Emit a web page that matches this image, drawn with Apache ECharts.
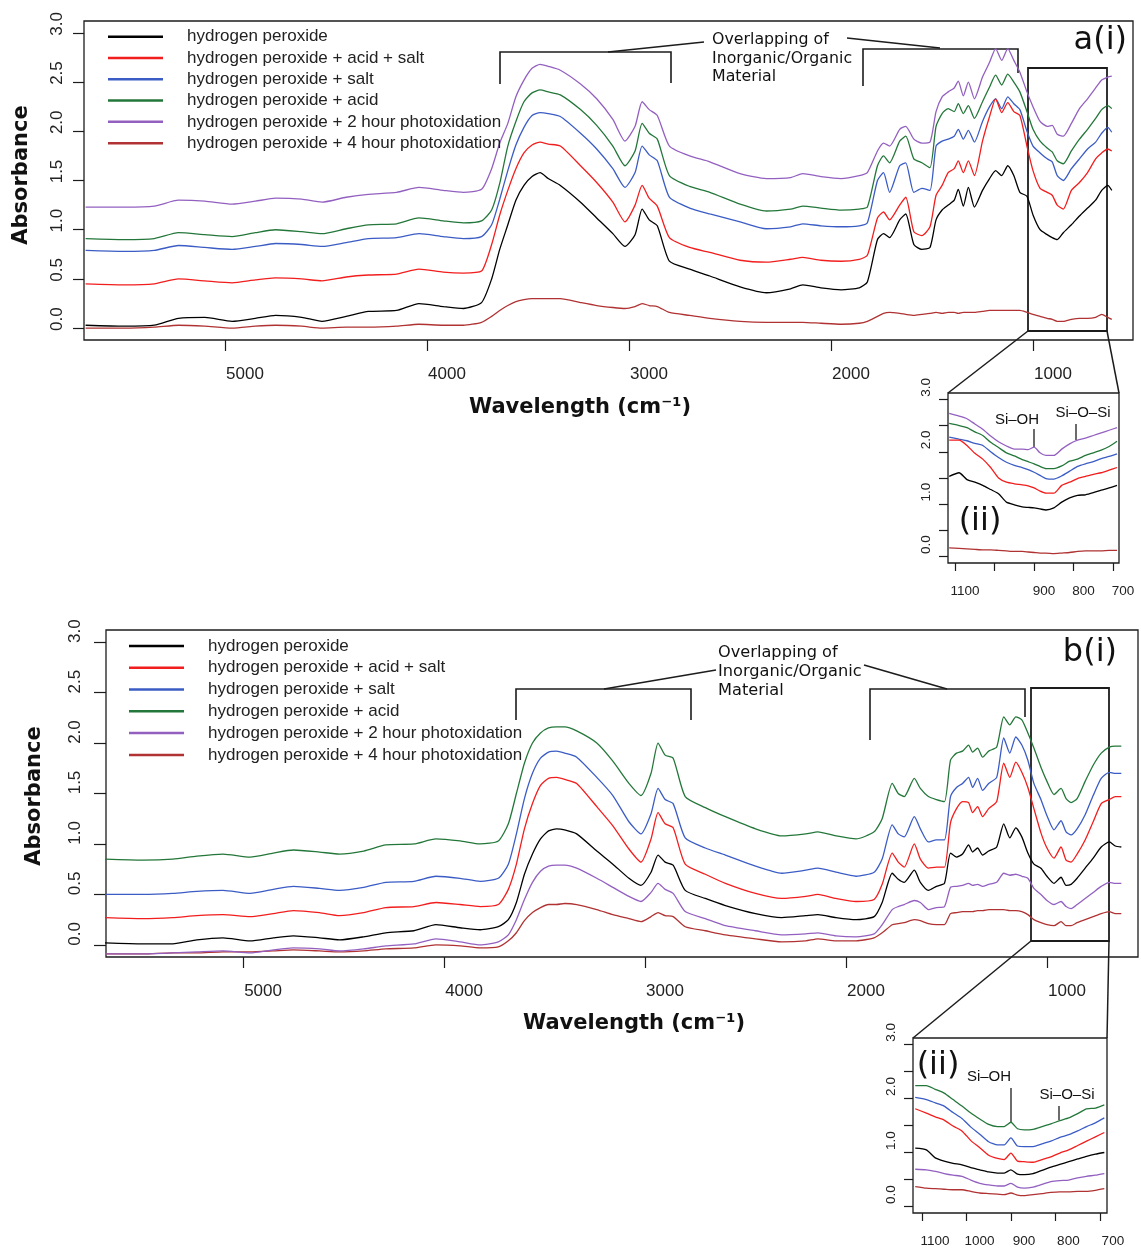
<!DOCTYPE html>
<html>
<head>
<meta charset="utf-8">
<script src="https://cdn.jsdelivr.net/npm/echarts@6/dist/echarts.min.js"></script>
<style>
  html, body { margin: 0; padding: 0; background: #fff; }
  #chart { width: 1141px; height: 1250px; }
</style>
</head>
<body>
<div id="chart"></div>
<script>
/* spectra (absorbance vs wavenumber, cm-1) */

var seriesNames = [
    'hydrogen peroxide',
    'hydrogen peroxide + acid + salt',
    'hydrogen peroxide + salt',
    'hydrogen peroxide + acid',
    'hydrogen peroxide + 2 hour photoxidation',
    'hydrogen peroxide + 4 hour photoxidation'
];
var seriesColors = ['#000000', '#f21d1d', '#3b5cc4', '#24773a', '#9360c0', '#b03232'];

var wavenumber = [5690, 5500, 5350, 5230, 5100, 4965, 4850, 4750, 4620, 4520,
    4400, 4290, 4150, 4040, 3920, 3820, 3730, 3680, 3640, 3600,
    3560, 3520, 3480, 3440, 3400, 3340, 3240, 3160, 3080, 3020,
    2970, 2935, 2900, 2860, 2800, 2700, 2600, 2450, 2320, 2200,
    2140, 2050, 1950, 1860, 1820, 1770, 1740, 1710, 1660, 1630,
    1590, 1550, 1510, 1480, 1450, 1420, 1390, 1370, 1345, 1320,
    1290, 1250, 1215, 1185, 1155, 1125, 1095, 1065, 1030, 1000,
    965, 930, 905, 880, 850, 810, 770, 730, 690, 660,
    630, 610];

// panel a(i)
var aBlack = [0.03, 0.02, 0.03, 0.10, 0.11, 0.07, 0.10, 0.13, 0.11, 0.07,
    0.12, 0.17, 0.18, 0.25, 0.22, 0.20, 0.26, 0.50, 0.80, 1.05,
    1.30, 1.45, 1.54, 1.58, 1.52, 1.45, 1.28, 1.12, 0.96, 0.83,
    0.95, 1.21, 1.10, 1.04, 0.68, 0.60, 0.53, 0.42, 0.36, 0.40,
    0.44, 0.41, 0.39, 0.41, 0.47, 0.90, 0.96, 0.92, 1.10, 1.16,
    0.85, 0.80, 0.82, 1.10, 1.20, 1.25, 1.30, 1.41, 1.24, 1.43,
    1.23, 1.40, 1.52, 1.60, 1.55, 1.65, 1.55, 1.38, 1.34, 1.15,
    1.00, 0.95, 0.92, 0.90, 0.97, 1.05, 1.14, 1.22, 1.30, 1.40,
    1.45, 1.40];
var aAcidSalt = [0.45, 0.44, 0.45, 0.50, 0.48, 0.46, 0.49, 0.51, 0.50, 0.48,
    0.52, 0.54, 0.55, 0.60, 0.57, 0.56, 0.58, 0.85, 1.15, 1.40,
    1.62, 1.78, 1.86, 1.89, 1.87, 1.85, 1.65, 1.48, 1.28, 1.08,
    1.25, 1.45, 1.32, 1.24, 0.92, 0.82, 0.77, 0.69, 0.67, 0.70,
    0.72, 0.69, 0.68, 0.70, 0.74, 1.12, 1.18, 1.10, 1.25, 1.33,
    0.98, 0.94, 1.03, 1.35, 1.45, 1.58, 1.62, 1.70, 1.58, 1.70,
    1.55, 1.90, 2.15, 2.33, 2.19, 2.29, 2.20, 2.16, 1.85, 1.60,
    1.42, 1.38, 1.35, 1.25, 1.21, 1.40, 1.48, 1.58, 1.72, 1.78,
    1.82, 1.80];
var aSalt = [0.79, 0.78, 0.79, 0.84, 0.82, 0.80, 0.83, 0.86, 0.85, 0.83,
    0.87, 0.91, 0.92, 0.96, 0.93, 0.91, 0.93, 1.05, 1.31, 1.60,
    1.86, 2.04, 2.16, 2.19, 2.18, 2.15, 1.98, 1.82, 1.62, 1.43,
    1.58, 1.85, 1.76, 1.70, 1.33, 1.22, 1.16, 1.08, 1.01, 1.03,
    1.06, 1.04, 1.03, 1.04, 1.07, 1.50, 1.58, 1.38, 1.65, 1.68,
    1.38, 1.42, 1.40, 1.85, 1.90, 1.92, 1.95, 2.02, 1.92, 2.01,
    1.89, 2.10, 2.25, 2.33, 2.23, 2.35, 2.28, 2.22, 2.00, 1.85,
    1.78, 1.72, 1.69, 1.55, 1.50, 1.62, 1.72, 1.82, 1.89, 1.98,
    2.04, 1.99];
var aAcid = [0.91, 0.90, 0.91, 0.97, 0.95, 0.93, 0.97, 1.00, 0.98, 0.96,
    1.01, 1.05, 1.06, 1.12, 1.09, 1.07, 1.09, 1.20, 1.47, 1.85,
    2.10, 2.30, 2.39, 2.42, 2.40, 2.37, 2.22, 2.06, 1.85, 1.65,
    1.80, 2.08, 1.98, 1.92, 1.55, 1.44, 1.38, 1.26, 1.19, 1.21,
    1.24, 1.22, 1.20, 1.21, 1.23, 1.65, 1.75, 1.68, 1.90, 1.95,
    1.72, 1.68, 1.63, 2.05, 2.18, 2.23, 2.20, 2.28, 2.18, 2.26,
    2.13, 2.30, 2.45, 2.57, 2.47, 2.58, 2.50, 2.40, 2.20, 2.02,
    1.90, 1.83, 1.79, 1.70, 1.67, 1.80, 1.92, 2.02, 2.13, 2.22,
    2.26, 2.23];
var aPhoto2h = [1.23, 1.23, 1.24, 1.30, 1.29, 1.26, 1.29, 1.32, 1.31, 1.28,
    1.33, 1.36, 1.38, 1.43, 1.40, 1.38, 1.41, 1.62, 1.88, 2.08,
    2.35, 2.52, 2.64, 2.68, 2.66, 2.62, 2.48, 2.33, 2.12, 1.90,
    2.05, 2.30, 2.22, 2.16, 1.85, 1.75, 1.69, 1.57, 1.52, 1.53,
    1.57, 1.54, 1.52, 1.55, 1.58, 1.80, 1.88, 1.85, 2.02, 2.05,
    1.92, 1.88, 1.89, 2.20, 2.35, 2.40, 2.44, 2.51, 2.36, 2.50,
    2.33, 2.55, 2.70, 2.84, 2.72, 2.84, 2.72, 2.60, 2.40, 2.25,
    2.10, 2.05, 2.06, 1.97, 1.95, 2.08, 2.23, 2.33, 2.44, 2.52,
    2.55, 2.56];
var aPhoto4h = [0.00, 0.00, 0.01, 0.03, 0.02, 0.00, 0.02, 0.03, 0.02, 0.00,
    0.01, 0.01, 0.02, 0.04, 0.03, 0.03, 0.06, 0.12, 0.18, 0.23,
    0.27, 0.29, 0.30, 0.30, 0.30, 0.30, 0.26, 0.23, 0.21, 0.20,
    0.22, 0.25, 0.23, 0.22, 0.16, 0.13, 0.10, 0.07, 0.06, 0.06,
    0.06, 0.05, 0.04, 0.05, 0.07, 0.12, 0.15, 0.16, 0.15, 0.14,
    0.13, 0.14, 0.15, 0.16, 0.15, 0.16, 0.16, 0.15, 0.16, 0.16,
    0.16, 0.17, 0.18, 0.18, 0.18, 0.18, 0.18, 0.18, 0.16, 0.14,
    0.12, 0.10, 0.09, 0.07, 0.07, 0.09, 0.10, 0.10, 0.11, 0.14,
    0.11, 0.09];

// panel b(i)
var bBlack = [0.02, 0.01, 0.01, 0.05, 0.07, 0.04, 0.07, 0.09, 0.07, 0.05,
    0.08, 0.12, 0.14, 0.20, 0.17, 0.15, 0.18, 0.25, 0.42, 0.70,
    0.90, 1.05, 1.13, 1.15, 1.14, 1.10, 0.93, 0.80, 0.66, 0.59,
    0.72, 0.89, 0.82, 0.79, 0.54, 0.46, 0.39, 0.31, 0.27, 0.29,
    0.30, 0.27, 0.25, 0.28, 0.42, 0.71, 0.65, 0.62, 0.74, 0.62,
    0.54, 0.58, 0.61, 0.91, 0.87, 0.90, 0.99, 0.92, 0.96, 0.89,
    0.93, 0.97, 1.20, 1.06, 1.16, 1.07, 0.91, 0.80, 0.76, 0.68,
    0.61, 0.67, 0.59, 0.60, 0.66, 0.76, 0.86, 0.97, 1.02, 0.98,
    0.97, null];
var bAcidSalt = [0.27, 0.26, 0.27, 0.29, 0.30, 0.28, 0.31, 0.34, 0.32, 0.29,
    0.32, 0.37, 0.38, 0.42, 0.40, 0.38, 0.40, 0.55, 0.80, 1.15,
    1.40, 1.58, 1.65, 1.66, 1.64, 1.60, 1.37, 1.18, 0.95, 0.82,
    1.05, 1.31, 1.20, 1.16, 0.80, 0.70, 0.61, 0.51, 0.46, 0.48,
    0.50, 0.46, 0.43, 0.45, 0.60, 0.91, 0.82, 0.77, 1.00, 0.85,
    0.76, 0.77, 0.77, 1.21, 1.35, 1.42, 1.41, 1.31, 1.37, 1.27,
    1.35, 1.42, 1.80, 1.66, 1.81, 1.71, 1.56, 1.35, 1.11, 0.96,
    0.86, 0.97, 0.84, 0.82, 0.90, 1.04, 1.22, 1.40, 1.44, 1.47,
    1.47, null];
var bSalt = [0.50, 0.50, 0.51, 0.53, 0.54, 0.51, 0.55, 0.58, 0.56, 0.54,
    0.57, 0.62, 0.63, 0.68, 0.66, 0.63, 0.66, 0.80, 1.10, 1.45,
    1.70, 1.85, 1.91, 1.92, 1.90, 1.86, 1.66, 1.48, 1.22, 1.10,
    1.30, 1.55, 1.44, 1.40, 1.06, 0.96, 0.89, 0.78, 0.71, 0.74,
    0.76, 0.72, 0.68, 0.72, 0.85, 1.19, 1.10, 1.07, 1.27, 1.15,
    1.02, 1.04, 1.04, 1.47, 1.56, 1.60, 1.66, 1.56, 1.65, 1.53,
    1.60, 1.66, 2.05, 1.90, 2.06, 1.98, 1.83, 1.60, 1.44, 1.28,
    1.14, 1.23, 1.12, 1.09, 1.15, 1.29, 1.48, 1.65, 1.71, 1.70,
    1.70, null];
var bAcid = [0.85, 0.84, 0.85, 0.88, 0.90, 0.87, 0.91, 0.94, 0.92, 0.90,
    0.93, 0.99, 1.00, 1.05, 1.03, 1.00, 1.03, 1.20, 1.50, 1.80,
    2.00, 2.10, 2.15, 2.16, 2.16, 2.12, 2.00, 1.82, 1.60, 1.48,
    1.70, 2.00, 1.88, 1.85, 1.47, 1.36, 1.27, 1.15, 1.08, 1.10,
    1.12, 1.08, 1.05, 1.12, 1.25, 1.60, 1.50, 1.47, 1.65, 1.55,
    1.47, 1.44, 1.42, 1.83, 1.90, 1.92, 1.98, 1.91, 1.95, 1.86,
    1.92, 1.96, 2.26, 2.18, 2.26, 2.23, 2.10, 1.95, 1.76, 1.62,
    1.49, 1.55, 1.45, 1.41, 1.45, 1.62, 1.78, 1.90, 1.96, 1.97,
    1.97, null];
var bPhoto2h = [-0.09, -0.09, -0.08, -0.07, -0.06, -0.08, -0.05, -0.03, -0.04, -0.06,
    -0.04, -0.01, 0.01, 0.06, 0.03, 0.00, 0.03, 0.10, 0.25, 0.45,
    0.62, 0.73, 0.78, 0.79, 0.79, 0.76, 0.66, 0.57, 0.48, 0.43,
    0.52, 0.61, 0.55, 0.51, 0.33, 0.26, 0.19, 0.14, 0.10, 0.11,
    0.12, 0.09, 0.08, 0.11, 0.20, 0.35, 0.38, 0.40, 0.44, 0.42,
    0.35, 0.37, 0.38, 0.57, 0.58, 0.59, 0.61, 0.59, 0.60, 0.58,
    0.60, 0.62, 0.71, 0.69, 0.70, 0.68, 0.66, 0.56, 0.50, 0.44,
    0.40, 0.43, 0.38, 0.36, 0.40, 0.46, 0.52, 0.58, 0.62, 0.61,
    0.61, null];
var bPhoto4h = [-0.09, -0.09, -0.08, -0.08, -0.07, -0.07, -0.06, -0.05, -0.06, -0.07,
    -0.06, -0.04, -0.03, 0.00, -0.01, -0.03, -0.02, 0.04, 0.12, 0.24,
    0.32, 0.37, 0.40, 0.40, 0.41, 0.40, 0.35, 0.30, 0.26, 0.23,
    0.28, 0.32, 0.29, 0.28, 0.18, 0.14, 0.10, 0.06, 0.03, 0.04,
    0.06, 0.04, 0.04, 0.07, 0.12, 0.20, 0.21, 0.22, 0.25, 0.24,
    0.21, 0.20, 0.20, 0.31, 0.32, 0.33, 0.33, 0.33, 0.34, 0.34,
    0.35, 0.35, 0.35, 0.34, 0.34, 0.33, 0.30, 0.25, 0.22, 0.20,
    0.19, 0.23, 0.19, 0.19, 0.22, 0.25, 0.28, 0.31, 0.33, 0.31,
    0.31, null];

// zoomed (ii) insets, 1115-690 cm-1
var insetWavenumber = [1115, 1090, 1070, 1050, 1030, 1010, 990, 970, 950, 930,
    915, 900, 885, 870, 850, 830, 810, 790, 770, 750, 730, 710, 690];

var aiiBlack    = [1.53, 1.60, 1.47, 1.42, 1.36, 1.28, 1.20, 1.04, 0.99, 0.95, 0.94, 0.93, 0.91, 0.89, 0.93, 1.04, 1.12, 1.17, 1.18, 1.22, 1.27, 1.31, 1.36];
var aiiAcidSalt = [2.22, 2.22, 2.12, 1.97, 1.86, 1.70, 1.50, 1.42, 1.39, 1.37, 1.35, 1.31, 1.25, 1.21, 1.21, 1.36, 1.42, 1.49, 1.53, 1.57, 1.60, 1.65, 1.70];
var aiiSalt     = [2.28, 2.24, 2.21, 2.16, 2.12, 2.00, 1.89, 1.80, 1.74, 1.70, 1.66, 1.61, 1.55, 1.49, 1.48, 1.54, 1.63, 1.72, 1.77, 1.81, 1.87, 1.91, 1.96];
var aiiAcid     = [2.54, 2.50, 2.46, 2.38, 2.31, 2.18, 2.08, 1.98, 1.92, 1.85, 1.81, 1.77, 1.72, 1.68, 1.68, 1.73, 1.82, 1.86, 1.93, 1.98, 2.03, 2.10, 2.20];
var aiiPhoto2h  = [2.73, 2.68, 2.63, 2.53, 2.43, 2.30, 2.19, 2.11, 2.05, 2.05, 2.04, 2.09, 1.98, 1.93, 1.93, 2.05, 2.15, 2.22, 2.26, 2.31, 2.36, 2.41, 2.46];
var aiiPhoto4h  = [0.17, 0.16, 0.15, 0.14, 0.13, 0.13, 0.12, 0.11, 0.10, 0.10, 0.09, 0.08, 0.07, 0.07, 0.06, 0.07, 0.08, 0.10, 0.11, 0.11, 0.11, 0.12, 0.12];

var biiBlack    = [1.08, 1.05, 0.90, 0.84, 0.80, 0.77, 0.72, 0.68, 0.64, 0.62, 0.62, 0.68, 0.60, 0.59, 0.61, 0.67, 0.73, 0.78, 0.83, 0.88, 0.93, 0.97, 1.00];
var biiAcidSalt = [1.81, 1.73, 1.66, 1.60, 1.49, 1.40, 1.22, 1.09, 0.95, 0.89, 0.87, 0.99, 0.84, 0.83, 0.82, 0.87, 0.92, 0.99, 1.05, 1.13, 1.21, 1.29, 1.37];
var biiSalt     = [2.02, 1.98, 1.92, 1.86, 1.74, 1.63, 1.47, 1.34, 1.20, 1.14, 1.14, 1.27, 1.12, 1.11, 1.11, 1.16, 1.21, 1.28, 1.33, 1.40, 1.48, 1.55, 1.64];
var biiAcid     = [2.24, 2.24, 2.17, 2.10, 1.98, 1.86, 1.73, 1.62, 1.52, 1.48, 1.48, 1.56, 1.44, 1.42, 1.43, 1.48, 1.53, 1.59, 1.64, 1.72, 1.81, 1.82, 1.88];
var biiPhoto2h  = [0.69, 0.68, 0.65, 0.61, 0.58, 0.56, 0.49, 0.43, 0.40, 0.38, 0.38, 0.43, 0.36, 0.34, 0.36, 0.41, 0.46, 0.48, 0.49, 0.53, 0.56, 0.58, 0.61];
var biiPhoto4h  = [0.37, 0.34, 0.33, 0.32, 0.31, 0.31, 0.28, 0.25, 0.24, 0.23, 0.22, 0.25, 0.21, 0.20, 0.22, 0.24, 0.26, 0.27, 0.27, 0.28, 0.28, 0.30, 0.33];

// axis ticks
var mainXTicks = [5000, 4000, 3000, 2000, 1000];
var insetXTicks = [1100, 1000, 900, 800, 700];
var insetAXLabels = [1100, 900, 800, 700];
var yTicks = [0, 0.5, 1, 1.5, 2, 2.5, 3];
var insetYLabels = [0, 1, 2, 3];


var chart = echarts.init(document.getElementById('chart'));

var INK = '#1c1c1c';
var TICK_FONT = '"Liberation Sans", Arial, sans-serif';
var VERDANA = '"DejaVu Sans", Verdana, sans-serif';

function pairUp(xs, ys) {
    return xs.map(function (x, i) { return [x, ys[i]]; });
}

var panels = [
    { xs: wavenumber, sets: [aBlack, aAcidSalt, aSalt, aAcid, aPhoto2h, aPhoto4h] },
    { xs: wavenumber, sets: [bBlack, bAcidSalt, bSalt, bAcid, bPhoto2h, bPhoto4h] },
    { xs: insetWavenumber, sets: [aiiBlack, aiiAcidSalt, aiiSalt, aiiAcid, aiiPhoto2h, aiiPhoto4h] },
    { xs: insetWavenumber, sets: [biiBlack, biiAcidSalt, biiSalt, biiAcid, biiPhoto2h, biiPhoto4h] }
];

var series = [];
panels.forEach(function (p, idx) {
    // draw 4h first so it sits underneath
    for (var k = p.sets.length - 1; k >= 0; k--) {
        series.push({
            type: 'line',
            name: seriesNames[k],
            xAxisIndex: idx,
            yAxisIndex: idx,
            data: pairUp(p.xs, p.sets[k]),
            showSymbol: false,
            smooth: 0.2,
            connectNulls: false,
            silent: true,
            animation: false,
            itemStyle: { color: seriesColors[k] },
            lineStyle: { color: seriesColors[k], width: 1.3 }
        });
    }
});

// x axis, reversed like an IR spectrum; kept on the box edge, not on y=0
function makeX(idx, min, max, ticks, labels, tickLen, fontSize, margin, shift) {
    return {
        type: 'value', gridIndex: idx, min: min, max: max, inverse: true,
        axisLine: { show: false, onZero: false }, splitLine: { show: false },
        axisTick: { show: true, length: tickLen, customValues: ticks, lineStyle: { color: INK, width: 1.2 } },
        axisLabel: {
            customValues: labels, fontSize: fontSize, color: '#222', fontFamily: TICK_FONT,
            margin: margin, padding: [0, 0, 0, shift * 2],
            formatter: function (v) { return String(v); }
        }
    };
}
function makeY(idx, labels, tickLen, fontSize, margin, shift) {
    return {
        type: 'value', gridIndex: idx, min: -0.12, max: 3.12,
        axisLine: { show: false, onZero: false }, splitLine: { show: false },
        axisTick: { show: true, length: tickLen, customValues: yTicks, lineStyle: { color: INK, width: 1.2 } },
        axisLabel: {
            customValues: labels, rotate: 90, fontSize: fontSize, color: '#222', fontFamily: TICK_FONT,
            margin: margin, padding: [0, 0, 0, shift * 2],
            formatter: function (v) { return v.toFixed(1); }
        }
    };
}

function gridBox(left, top, width, height) {
    return { left: left, top: top, width: width, height: height, show: true,
        borderColor: INK, borderWidth: 1.3, backgroundColor: 'transparent', containLabel: false };
}

function legendAt(left, top, gap) {
    return {
        orient: 'vertical', left: left, top: top, padding: 0, itemGap: 0,
        icon: 'rect', itemWidth: 55, itemHeight: 2.5, selectedMode: false,
        data: seriesNames,
        textStyle: { fontSize: 17, color: '#222', fontFamily: TICK_FONT, lineHeight: gap, padding: [0, 0, 0, 19] }
    };
}

function seg(points, w) {
    return { type: 'polyline', silent: true, shape: { points: points },
        style: { stroke: INK, lineWidth: w || 1.6, fill: null } };
}
function boxAt(x, y, w, h) {
    return { type: 'rect', silent: true, shape: { x: x, y: y, width: w, height: h },
        style: { stroke: INK, lineWidth: 1.8, fill: null } };
}
function txt(x, y, text, font, align, vAlign, extra) {
    var el = { type: 'text', silent: true, x: x, y: y,
        style: { text: text, font: font, fill: '#111', align: align, verticalAlign: vAlign,
            textAlign: align, textVerticalAlign: vAlign } };
    if (extra) {
        for (var key in extra) { el.style[key] = extra[key]; }
    }
    return el;
}

var overlapText = 'Overlapping of\nInorganic/Organic\nMaterial';
var titleFont = 'bold 21px ' + VERDANA;

var graphics = [
    // panel a annotations
    seg([[500, 84], [500, 52], [671, 52], [671, 83]]),
    seg([[608, 52], [704, 42]]),
    txt(712, 31, overlapText, '15.8px ' + VERDANA, 'left', 'top', { lineHeight: 18.5 }),
    seg([[847, 38], [940, 48]]),
    seg([[863, 86], [863, 49], [1018, 49], [1018, 73]]),
    boxAt(1028, 68, 79, 263),
    seg([[1028, 331], [948, 393]], 1.5),
    seg([[1107, 331], [1119, 393]], 1.5),
    txt(1127, 41, 'a(i)', '32px ' + VERDANA, 'right', 'middle'),
    txt(980, 522, '(ii)', '32px ' + VERDANA, 'center', 'middle'),
    txt(1017, 420, 'Si\u2013OH', '15px ' + TICK_FONT, 'center', 'middle'),
    seg([[1034, 429], [1034, 447]], 1.3),
    txt(1083, 413, 'Si\u2013O\u2013Si', '15px ' + TICK_FONT, 'center', 'middle'),
    seg([[1076, 424], [1076, 440]], 1.3),
    { type: 'text', silent: true, x: 22, y: 175, rotation: Math.PI / 2,
      style: { text: 'Absorbance', font: titleFont, fill: '#111', align: 'center', verticalAlign: 'middle',
               textAlign: 'center', textVerticalAlign: 'middle' } },
    txt(580, 408, 'Wavelength (cm\u207B\u00B9)', titleFont, 'center', 'middle'),

    // panel b annotations
    seg([[516, 720], [516, 689], [691, 689], [691, 720]]),
    seg([[604, 689], [716, 670]]),
    txt(718, 643.5, overlapText, '16.2px ' + VERDANA, 'left', 'top', { lineHeight: 19 }),
    seg([[864, 665], [947, 689]]),
    seg([[870, 740], [870, 689], [1025, 689], [1025, 717]]),
    boxAt(1031, 688, 78, 253),
    seg([[1031, 941], [913, 1038]], 1.5),
    seg([[1109, 941], [1107, 1038]], 1.5),
    txt(1117, 653, 'b(i)', '32px ' + VERDANA, 'right', 'middle'),
    txt(938, 1066, '(ii)', '32px ' + VERDANA, 'center', 'middle'),
    txt(989, 1077, 'Si\u2013OH', '15px ' + TICK_FONT, 'center', 'middle'),
    seg([[1011, 1088], [1011, 1123]], 1.3),
    txt(1067, 1095, 'Si\u2013O\u2013Si', '15px ' + TICK_FONT, 'center', 'middle'),
    seg([[1059, 1106], [1059, 1120]], 1.3),
    { type: 'text', silent: true, x: 35, y: 796, rotation: Math.PI / 2,
      style: { text: 'Absorbance', font: titleFont, fill: '#111', align: 'center', verticalAlign: 'middle',
               textAlign: 'center', textVerticalAlign: 'middle' } },
    txt(634, 1024, 'Wavelength (cm\u207B\u00B9)', titleFont, 'center', 'middle')
];

var option = {
    animation: false,
    backgroundColor: '#ffffff',
    grid: [
        gridBox(84, 21, 1049, 319),
        gridBox(106, 630, 1032, 327),
        gridBox(948, 393, 171, 170),
        gridBox(913, 1038, 194, 175)
    ],
    xAxis: [
        makeX(0, 505, 5698, mainXTicks, mainXTicks, 11, 17, 26, 20),
        makeX(1, 547, 5682, mainXTicks, mainXTicks, 11, 17, 26, 20),
        makeX(2, 685, 1118, insetXTicks, insetAXLabels, 8, 13.5, 21, 10),
        makeX(3, 684, 1120, insetXTicks, insetXTicks, 8, 13.5, 21, 13)
    ],
    yAxis: [
        makeY(0, yTicks, 11, 17, 18, 9),
        makeY(1, yTicks, 12, 17, 22, 11),
        makeY(2, insetYLabels, 9, 13.5, 15, 12),
        makeY(3, insetYLabels, 9, 13.5, 15, 12)
    ],
    legend: [
        legendAt(108, 26, 21.3),
        legendAt(129, 635, 21.8)
    ],
    series: series,
    graphic: graphics
};

chart.setOption(option);
</script>
</body>
</html>
